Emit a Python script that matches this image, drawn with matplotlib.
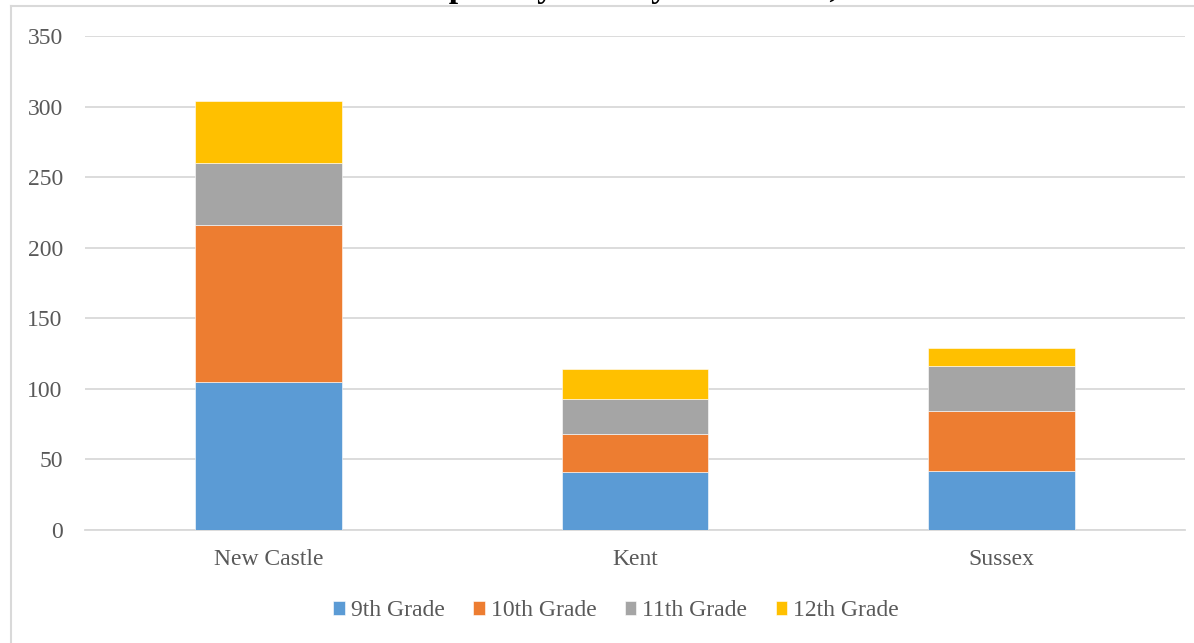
import numpy as np
import matplotlib
matplotlib.use('Agg')
import matplotlib.pyplot as plt
from matplotlib.lines import Line2D

counties = ['New Castle', 'Kent', 'Sussex']
grades = ['9th Grade', '10th Grade', '11th Grade', '12th Grade']
grade9 = [105, 41, 42]
grade10 = [111, 27, 42]
grade11 = [44, 25, 32]
grade12 = [44, 21, 13]
colors = ['#5B9BD5', '#ED7D31', '#A5A5A5', '#FFC000']

plt.rcParams['font.family'] = ['Liberation Serif', 'DejaVu Serif']

fig = plt.figure(figsize=(11.94, 6.43), dpi=100)
ax = fig.add_axes([85/1194, 1 - 530/643, 1100/1194, 494/643])

x = np.arange(len(counties))
bottom = np.zeros(len(counties))
for name, vals, c in zip(grades, [grade9, grade10, grade11, grade12], colors):
	ax.bar(x, vals, 0.4, bottom=bottom, color=c, label=name,
		edgecolor='white', linewidth=0.4, zorder=3)
	bottom += np.array(vals)

ax.set_xlim(-0.5, 2.5)
ax.set_ylim(0, 350)
ax.set_yticks(range(0, 351, 50))
ax.set_xticks(x)
ax.set_xticklabels(counties)
ax.grid(axis='y', color='#D9D9D9', linewidth=1.3, zorder=0)
for s in ['top', 'right', 'left']:
	ax.spines[s].set_visible(False)
ax.spines['bottom'].set_color('#D9D9D9')
ax.spines['bottom'].set_linewidth(1.3)
ax.tick_params(length=0, labelsize=17, colors='#595959', pad=14)
ax.tick_params(axis='y', pad=16)

fig.legend(loc='center', bbox_to_anchor=(616/1194, 1 - 611/643), ncol=4,
	frameon=False, fontsize=17, labelcolor='#595959', handlelength=0.5,
	handleheight=0.5, handletextpad=0.25, columnspacing=1.2)

# title is cut off at the top edge in the reference
fig.text(583/1194, 1 + 3/643, 'Students Sampled by County and Grade, 2016',
	ha='center', va='baseline', fontsize=24, fontweight='bold', color='black')

# chart frame (only left and top visible)
fig.add_artist(Line2D([11/1194, 11/1194], [0, 1 - 6/643], color='#D9D9D9', linewidth=1.5))
fig.add_artist(Line2D([11/1194, 1], [1 - 6/643, 1 - 6/643], color='#D9D9D9', linewidth=1.5))

fig.savefig('out.png', dpi=100)
